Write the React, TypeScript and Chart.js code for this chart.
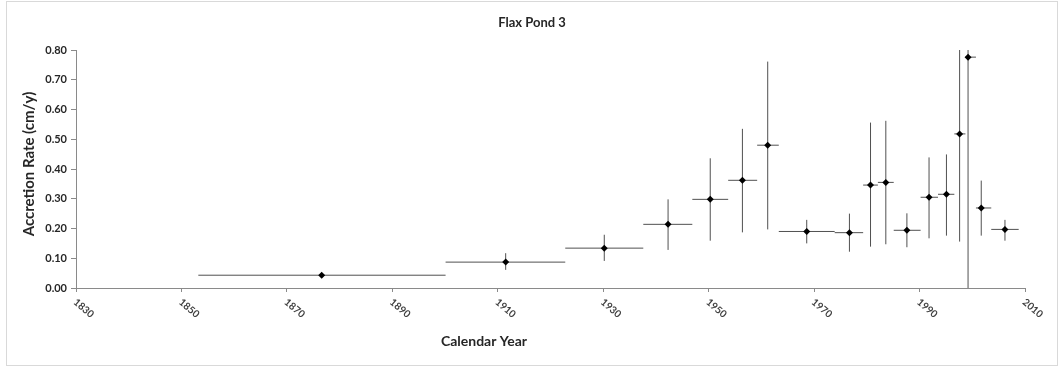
import React, { useEffect, useRef } from "react";
import { Chart, registerables } from "chart.js";

Chart.register(...registerables);

// Sample mid-point years and accretion rates (cm/y)
const sampleYears = [1876.6, 1911.5, 1930.2, 1942.3, 1950.3, 1956.4, 1961.2, 1968.6, 1976.7, 1980.7, 1983.6, 1987.6, 1991.8, 1995.1, 1997.6, 1999.2, 2001.7, 2006.2];
const accretionRates = [0.043, 0.087, 0.134, 0.214, 0.298, 0.362, 0.48, 0.19, 0.186, 0.346, 0.355, 0.194, 0.305, 0.315, 0.518, 0.776, 0.269, 0.197];

// Date range covered by each section (horizontal error bars)
const yearStart = [1853.2, 1900.1, 1922.8, 1937.6, 1946.9, 1953.7, 1959.2, 1963.3, 1973.9, 1979.3, 1982.1, 1985.1, 1990.2, 1993.5, 1996.6, 1998.7, 2000.7, 2003.6];
const yearEnd = [1900.1, 1922.8, 1937.6, 1946.9, 1953.7, 1959.2, 1963.3, 1973.9, 1979.3, 1982.1, 1985.1, 1990.2, 1993.5, 1996.6, 1998.7, 2000.7, 2003.6, 2008.8];

// Rate uncertainty (vertical error bars)
const rateLow = [0.043, 0.061, 0.091, 0.128, 0.159, 0.187, 0.197, 0.15, 0.122, 0.139, 0.147, 0.137, 0.167, 0.176, 0.156, -0.024, 0.176, 0.159];
const rateHigh = [0.043, 0.117, 0.179, 0.298, 0.436, 0.535, 0.761, 0.229, 0.25, 0.556, 0.562, 0.251, 0.439, 0.449, 0.88, 1.576, 0.361, 0.229];

// Axis ticks
const yearTicks = [1830, 1850, 1870, 1890, 1910, 1930, 1950, 1970, 1990, 2010];
const rateTicks = [0, 0.1, 0.2, 0.3, 0.4, 0.5, 0.6, 0.7, 0.8];

const FONT = "Lato, 'Open Sans', sans-serif";
const AXIS_COLOR = "#8a8a8a";
const BAR_COLOR = "#505050";

const errorBarsPlugin = {
  id: "errorBars",
  beforeDatasetsDraw(chart: any) {
    const { ctx, chartArea, scales } = chart;
    const x = scales.x;
    const y = scales.y;
    ctx.save();
    ctx.beginPath();
    ctx.rect(chartArea.left, chartArea.top, chartArea.right - chartArea.left, chartArea.bottom - chartArea.top);
    ctx.clip();
    ctx.strokeStyle = BAR_COLOR;
    ctx.lineWidth = 1;
    for (let i = 0; i < sampleYears.length; i++) {
      const cx = x.getPixelForValue(sampleYears[i]);
      const cy = y.getPixelForValue(accretionRates[i]);
      ctx.beginPath();
      ctx.moveTo(x.getPixelForValue(yearStart[i]), cy);
      ctx.lineTo(x.getPixelForValue(yearEnd[i]), cy);
      if (rateHigh[i] !== rateLow[i]) {
        ctx.moveTo(cx, y.getPixelForValue(rateLow[i]));
        ctx.lineTo(cx, y.getPixelForValue(rateHigh[i]));
      }
      ctx.stroke();
    }
    ctx.restore();
  },
  afterDraw(chart: any) {
    const { ctx, chartArea, scales } = chart;
    const x = scales.x;
    ctx.save();

    // outer frame
    ctx.strokeStyle = "#d9d9d9";
    ctx.lineWidth = 1;
    ctx.strokeRect(6.5, 1.5, 1051, 364);

    // title
    ctx.fillStyle = "#262626";
    ctx.font = `bold 13px ${FONT}`;
    ctx.textAlign = "center";
    ctx.textBaseline = "middle";
    ctx.fillText("Flax Pond 3", 532, 23);

    // x axis title
    ctx.font = `bold 14px ${FONT}`;
    ctx.fillText("Calendar Year", 484, 341);

    // y axis title
    ctx.save();
    ctx.translate(29, 164);
    ctx.rotate(-Math.PI / 2);
    ctx.font = `bold 15px ${FONT}`;
    ctx.fillText("Accretion Rate (cm/y)", 0, 0);
    ctx.restore();

    // rotated year labels
    ctx.font = `bold 10px ${FONT}`;
    ctx.fillStyle = "#404040";
    ctx.textAlign = "left";
    ctx.textBaseline = "top";
    for (const v of yearTicks) {
      const px = x.getPixelForValue(v);
      ctx.save();
      ctx.translate(px + 2, chartArea.bottom + 9);
      ctx.rotate((40 * Math.PI) / 180);
      ctx.fillText(String(v), 0, 0);
      ctx.restore();
    }
    ctx.restore();
  },
};

export default function App() {
  const canvasRef = useRef<HTMLCanvasElement | null>(null);

  useEffect(() => {
    document.body.style.margin = "0";
    document.body.style.overflow = "hidden";
    const canvas = canvasRef.current;
    if (!canvas) return;
    const chart = new Chart(canvas, {
      type: "scatter",
      data: {
        datasets: [
          {
            data: sampleYears.map((yr, i) => ({ x: yr, y: accretionRates[i] })),
            pointStyle: "rectRot",
            pointRadius: 3.5,
            pointBackgroundColor: "#000000",
            pointBorderColor: "#000000",
            pointBorderWidth: 0,
            showLine: false,
          },
        ],
      },
      options: {
        responsive: false,
        animation: false,
        events: [],
        layout: { padding: { top: 50, right: 38, bottom: 0, left: 0 } },
        plugins: { legend: { display: false }, tooltip: { enabled: false }, title: { display: false } },
        scales: {
          x: {
            type: "linear",
            min: yearTicks[0],
            max: yearTicks[yearTicks.length - 1],
            afterBuildTicks: (scale: any) => {
              scale.ticks = yearTicks.map((v) => ({ value: v }));
            },
            ticks: { display: false },
            grid: { display: true, drawOnChartArea: false, drawTicks: true, tickLength: 4, color: AXIS_COLOR },
            border: { display: true, color: AXIS_COLOR, width: 1 },
            afterFit: (scale: any) => {
              scale.height = 83;
            },
          },
          y: {
            type: "linear",
            min: rateTicks[0],
            max: rateTicks[rateTicks.length - 1],
            afterBuildTicks: (scale: any) => {
              scale.ticks = rateTicks.map((v) => ({ value: v }));
            },
            ticks: {
              callback: (v: any) => Number(v).toFixed(2),
              font: { family: FONT, size: 11, weight: "bold" },
              color: "#262626",
              padding: 4,
            },
            grid: { display: true, drawOnChartArea: false, drawTicks: true, tickLength: 5, color: AXIS_COLOR },
            border: { display: true, color: AXIS_COLOR, width: 1 },
            afterFit: (scale: any) => {
              scale.width = 76;
            },
          },
        },
      },
      plugins: [errorBarsPlugin],
    });
    return () => chart.destroy();
  }, []);

  return <canvas ref={canvasRef} width={1063} height={371} style={{ display: "block" }} />;
}
